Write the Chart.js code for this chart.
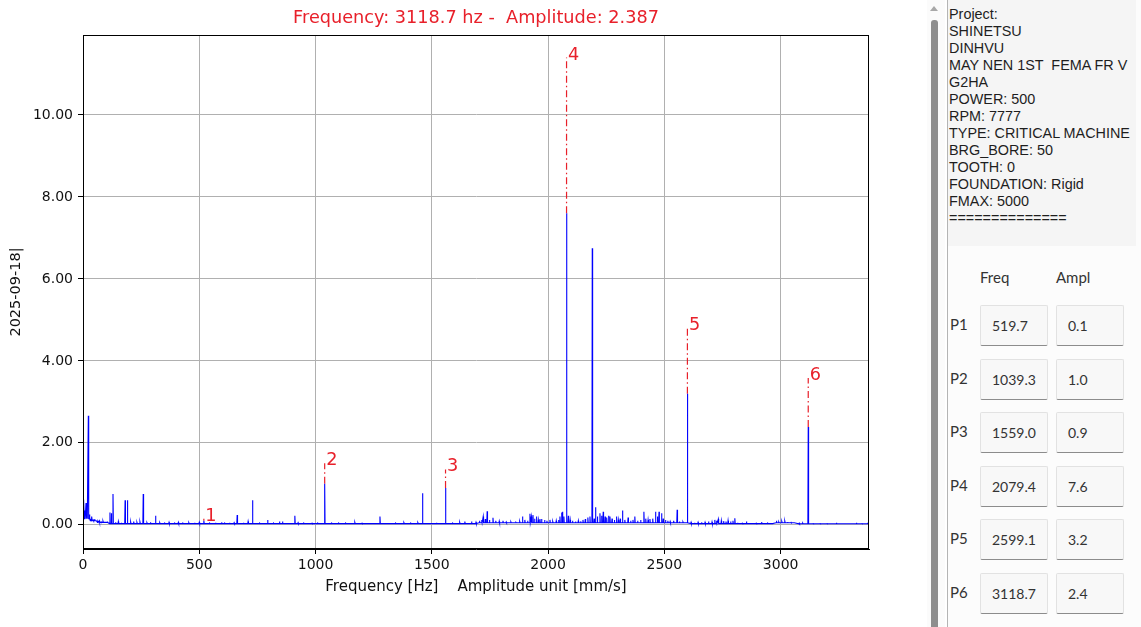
<!DOCTYPE html>
<html lang="en">

<head>
    <meta charset="UTF-8">
    <title>Spectrum</title>
    <script src="https://cdn.jsdelivr.net/npm/chart.js"></script>
    <style>
        body {
            margin: 0;
            width: 1141px;
            height: 627px;
            overflow: hidden;
            background: #ffffff;
            position: relative;
        }

        #chartBox {
            position: absolute;
            left: 0;
            top: 0;
            width: 900px;
            height: 627px;
        }

        .scrollTrack {
            position: absolute;
            left: 927px;
            top: 0;
            width: 18px;
            height: 627px;
            background: #fbfbfb;
        }

        .scrollArrow {
            position: absolute;
            left: 930px;
            top: 6px;
            width: 0;
            height: 0;
            border-left: 4px solid transparent;
            border-right: 4px solid transparent;
            border-bottom: 5px solid #a8a8a8;
        }

        .scrollThumb {
            position: absolute;
            left: 931px;
            top: 20px;
            width: 7px;
            height: 620px;
            background: #8e8e8e;
            border-radius: 3px;
        }

        #side {
            position: absolute;
            left: 947px;
            top: 0;
            width: 194px;
            height: 627px;
            border-left: 1px solid #b4b4b4;
            background: #fcfcfc;
        }

        #info {
            position: absolute;
            left: 0;
            top: 0;
            width: 188px;
            height: 246px;
            background: #f5f5f5;
            font-family: "Liberation Sans", Arial, sans-serif;
            font-size: 14.4px;
            line-height: 17px;
            color: #1e1e1e;
            padding: 6px 0 0 1px;
            box-sizing: border-box;
            white-space: pre;
        }

        .hdr {
            position: absolute;
            top: 268px;
            font-family: Lato, sans-serif;
            font-size: 15px;
            color: #333;
        }

        .rowLbl {
            position: absolute;
            left: 2px;
            font-family: Lato, sans-serif;
            font-size: 15px;
            color: #333;
        }

        .cell {
            position: absolute;
            width: 68px;
            height: 41px;
            box-sizing: border-box;
            background: #f8f8f8;
            border: 1px solid #e2e2e2;
            border-bottom: 1px solid #8c8c8c;
            border-radius: 2px;
            font-family: Lato, sans-serif;
            font-size: 14px;
            color: #333;
            line-height: 39px;
            padding-left: 11px;
        }
    </style>
</head>

<body>

    <div id="chartBox"><canvas id="spectrum" width="900" height="627"></canvas></div>

    <div class="scrollTrack"></div>
    <div class="scrollArrow"></div>
    <div class="scrollThumb"></div>

    <div id="side">
        <div id="info"></div>
        <div class="hdr" style="left: 32px;">Freq</div>
        <div class="hdr" style="left: 108px;">Ampl</div>
        <div id="peakTable"></div>
    </div>

    <script>
        // machine info shown in the side box
        const infoLines = [
            'Project:', 'SHINETSU', 'DINHVU', 'MAY NEN 1ST  FEMA FR V', 'G2HA',
            'POWER: 500', 'RPM: 7777', 'TYPE: CRITICAL MACHINE', 'BRG_BORE: 50',
            'TOOTH: 0', 'FOUNDATION: Rigid', 'FMAX: 5000', '=============='
        ];

        // picked peaks (P1..P6)
        const markNames = ['1', '2', '3', '4', '5', '6'];
        const markFreq = [519.7, 1039.3, 1559.0, 2079.4, 2599.1, 3118.7];
        const markAmp = [0.1, 1.0, 0.9, 7.6, 3.2, 2.387];

        // noise floor of the spectrum, by band start frequency
        const floorFreq = [0, 30, 60, 110, 1700, 2600, 2980, 3070];
        const floorAmp = [0.15, 0.1, 0.06, 0.03, 0.05, 0.03, 0.05, 0.025];

        // spectral lines (Hz, mm/s)
        const peakFreq = [
            2, 4, 8, 13, 17, 23, 28, 33, 38, 44, 50, 57, 64, 70, 78, 86, 95, 105, 116, 122,
            129, 140, 152, 165, 181, 191, 205, 218, 232, 245, 259, 275, 290, 312, 330, 352, 370, 395, 410, 430,
            455, 480, 500, 519.7, 545, 570, 596, 610, 630, 650, 663, 690, 710, 729, 760, 794, 820, 845, 858, 880,
            911, 925, 950, 985, 1010, 1039.3, 1070, 1100, 1130, 1169, 1200, 1240, 1277, 1310, 1345, 1380, 1410, 1440, 1460, 1490,
            1520, 1559.0, 1590, 1620, 1642, 1671, 1690, 1705, 1715, 1721, 1730, 1738, 1748, 1763, 1775, 1790, 1806, 1820, 1840, 1862,
            1878, 1890, 1900, 1912, 1922, 1928, 1935, 1942, 1950, 1958, 1965, 1972, 1985, 1995, 2008, 2020, 2035, 2045, 2051, 2058,
            2062, 2068, 2079.4, 2087, 2095, 2105, 2118, 2130, 2140, 2150, 2160, 2171, 2180, 2190, 2198, 2204, 2212, 2223, 2230, 2237,
            2245, 2252, 2260, 2266, 2275, 2285, 2294, 2302, 2310, 2320, 2330, 2344, 2355, 2365, 2373, 2385, 2398, 2412, 2420, 2430,
            2438, 2450, 2462, 2470, 2477, 2488, 2495, 2505, 2515, 2525, 2540, 2555, 2565, 2580, 2599.1, 2615, 2630, 2645, 2660, 2675,
            2690, 2705, 2717, 2725, 2732, 2745, 2755, 2765, 2774, 2785, 2795, 2803, 2815, 2835, 2853, 2875, 2895, 2918, 2945, 2965,
            2982, 2992, 3005, 3018, 3030, 3045, 3060, 3080, 3095, 3118.7, 3140, 3170, 3200, 3240, 3270, 3300, 3326, 3350, 3374
        ];
        const peakAmp = [
            0.45, 0.62, 0.35, 0.53, 0.3, 2.66, 0.25, 0.15, 0.2, 0.12, 0.14, 0.1, 0.08, 0.1, 0.07, 0.09, 0.06, 0.08, 0.3, 0.28,
            0.75, 0.06, 0.08, 0.05, 0.6, 0.6, 0.07, 0.08, 0.06, 0.07, 0.75, 0.05, 0.06, 0.22, 0.05, 0.04, 0.06, 0.04, 0.06, 0.04,
            0.05, 0.05, 0.06, 0.1, 0.04, 0.05, 0.06, 0.04, 0.05, 0.05, 0.24, 0.05, 0.08, 0.6, 0.04, 0.12, 0.04, 0.08, 0.08, 0.04,
            0.22, 0.05, 0.04, 0.04, 0.04, 1.0, 0.04, 0.04, 0.04, 0.06, 0.04, 0.04, 0.2, 0.04, 0.04, 0.05, 0.04, 0.05, 0.77, 0.04,
            0.05, 0.9, 0.04, 0.06, 0.08, 0.08, 0.06, 0.1, 0.12, 0.2, 0.14, 0.33, 0.12, 0.17, 0.1, 0.09, 0.1, 0.07, 0.07, 0.06,
            0.08, 0.2, 0.12, 0.1, 0.27, 0.2, 0.24, 0.15, 0.2, 0.12, 0.14, 0.14, 0.12, 0.1, 0.12, 0.08, 0.1, 0.12, 0.2, 0.3,
            0.32, 0.2, 7.6, 0.22, 0.12, 0.1, 0.08, 0.1, 0.09, 0.12, 0.14, 0.18, 0.2, 6.75, 0.15, 0.43, 0.2, 0.28, 0.22, 0.32,
            0.2, 0.18, 0.22, 0.2, 0.15, 0.12, 0.2, 0.12, 0.15, 0.35, 0.12, 0.18, 0.1, 0.12, 0.2, 0.1, 0.12, 0.32, 0.15, 0.12,
            0.14, 0.15, 0.32, 0.2, 0.32, 0.28, 0.15, 0.12, 0.1, 0.08, 0.1, 0.37, 0.08, 0.07, 3.2, 0.06, 0.05, 0.06, 0.06, 0.06,
            0.08, 0.07, 0.12, 0.1, 0.14, 0.1, 0.09, 0.08, 0.1, 0.08, 0.1, 0.16, 0.05, 0.04, 0.08, 0.04, 0.04, 0.07, 0.04, 0.04,
            0.1, 0.07, 0.08, 0.09, 0.07, 0.06, 0.05, 0.04, 0.04, 2.387, 0.03, 0.03, 0.03, 0.05, 0.03, 0.03, 0.05, 0.03, 0.05
        ];

        const xTicks = [0, 500, 1000, 1500, 2000, 2500, 3000];
        const yTicks = [0, 2, 4, 6, 8, 10];

        const RED = '#e8202a';
        const BLUE = '#0000ff';

        // ---- side panel ----
        document.getElementById('info').textContent = infoLines.join('\n');

        const tbl = document.getElementById('peakTable');
        markFreq.forEach((f, i) => {
            const top = 305 + i * 53.5;
            tbl.insertAdjacentHTML('beforeend',
                `<div class="rowLbl" style="top:${top + 10}px">P${i + 1}</div>` +
                `<div class="cell" style="left:32px; top:${top}px">${f.toFixed(1)}</div>` +
                `<div class="cell" style="left:108px; top:${top}px">${markAmp[i].toFixed(1)}</div>`);
        });

        // ---- spectrum points ----
        function floorAt(f) {
            let lvl = floorAmp[0];
            for (let i = 0; i < floorFreq.length; i++) {
                if (floorFreq[i] <= f) lvl = floorAmp[i];
            }
            return lvl;
        }

        let spectrumPts = [{ x: 0, y: floorAt(0) }];
        peakFreq.forEach((f, i) => {
            const base = floorAt(f);
            spectrumPts.push({ x: f - 1.5, y: base });
            spectrumPts.push({ x: f, y: peakAmp[i] });
            spectrumPts.push({ x: f + 1.5, y: base });
        });
        spectrumPts.push({ x: 3380, y: floorAt(3380) });

        // dash-dot marker above each picked peak
        const markerSets = markFreq.map((f, i) => ({
            data: [{ x: f, y: markAmp[i] }, { x: f, y: markAmp[i] * 1.5 }],
            borderColor: RED,
            borderWidth: 1.2,
            borderDash: [7, 3, 1.5, 3],
            pointRadius: 0
        }));

        // frame, title and peak numbers
        const decorPlugin = {
            id: 'decor',
            afterDraw(chart) {
                const ctx = chart.ctx;
                const a = chart.chartArea;
                const xs = chart.scales.x, ys = chart.scales.y;
                ctx.save();
                ctx.strokeStyle = '#000';
                ctx.lineWidth = 1;
                ctx.strokeRect(a.left + 0.5, a.top + 0.5, a.right - a.left - 1, a.bottom - a.top - 1);

                ctx.fillStyle = RED;
                ctx.font = '17.7px "DejaVu Sans"';
                ctx.textAlign = 'center';
                ctx.textBaseline = 'middle';
                ctx.fillText('Frequency: ' + markFreq[5].toFixed(1) + ' hz -  Amplitude: ' + markAmp[5].toFixed(3),
                    (a.left + a.right) / 2, 18);

                ctx.textAlign = 'left';
                ctx.textBaseline = 'alphabetic';
                markFreq.forEach((f, i) => {
                    const px = xs.getPixelForValue(f);
                    const py = ys.getPixelForValue(markAmp[i] * 1.5);
                    ctx.fillText(markNames[i], px + 1.5, py + 2);
                });
                ctx.restore();
            }
        };

        const tickFont = { family: 'DejaVu Sans', size: 14 };
        const titleFont = { family: 'DejaVu Sans', size: 15 };

        let spectrumChart = new Chart(document.getElementById('spectrum').getContext('2d'), {
            type: 'line',
            data: {
                datasets: [{
                    data: spectrumPts,
                    borderColor: BLUE,
                    borderWidth: 1.1,
                    pointRadius: 0,
                    tension: 0
                }].concat(markerSets)
            },
            options: {
                responsive: false,
                animation: false,
                devicePixelRatio: 1,
                layout: { padding: { top: 35, right: 31, left: 0, bottom: 0 } },
                plugins: {
                    legend: { display: false },
                    tooltip: { enabled: false },
                    title: { display: false }
                },
                scales: {
                    x: {
                        type: 'linear',
                        min: 0,
                        max: 3380,
                        afterFit: (s) => { s.height = 78; },
                        afterBuildTicks: (s) => { s.ticks = xTicks.map(v => ({ value: v })); },
                        ticks: {
                            color: '#111',
                            font: tickFont,
                            padding: 3,
                            maxRotation: 0,
                            callback: (v) => String(v)
                        },
                        grid: { color: '#b0b0b0', lineWidth: 1, tickColor: '#000', tickLength: 5 },
                        border: { color: '#000', width: 1 },
                        title: {
                            display: true,
                            text: 'Frequency [Hz]    Amplitude unit [mm/s]',
                            color: '#111',
                            font: titleFont,
                            padding: { top: 0, bottom: 31 }
                        }
                    },
                    y: {
                        min: -0.59,
                        max: 11.95,
                        afterFit: (s) => { s.width = 83; },
                        afterBuildTicks: (s) => { s.ticks = yTicks.map(v => ({ value: v })); },
                        ticks: {
                            color: '#111',
                            font: tickFont,
                            padding: 5,
                            callback: (v) => v.toFixed(2)
                        },
                        grid: { color: '#b0b0b0', lineWidth: 1, tickColor: '#000', tickLength: 5 },
                        border: { color: '#000', width: 1 },
                        title: {
                            display: true,
                            text: '2025-09-18|',
                            color: '#111',
                            font: { family: 'DejaVu Sans', size: 14.5 },
                            padding: { top: 8, bottom: 0 }
                        }
                    }
                }
            },
            plugins: [decorPlugin]
        });
    </script>

</body>

</html>
